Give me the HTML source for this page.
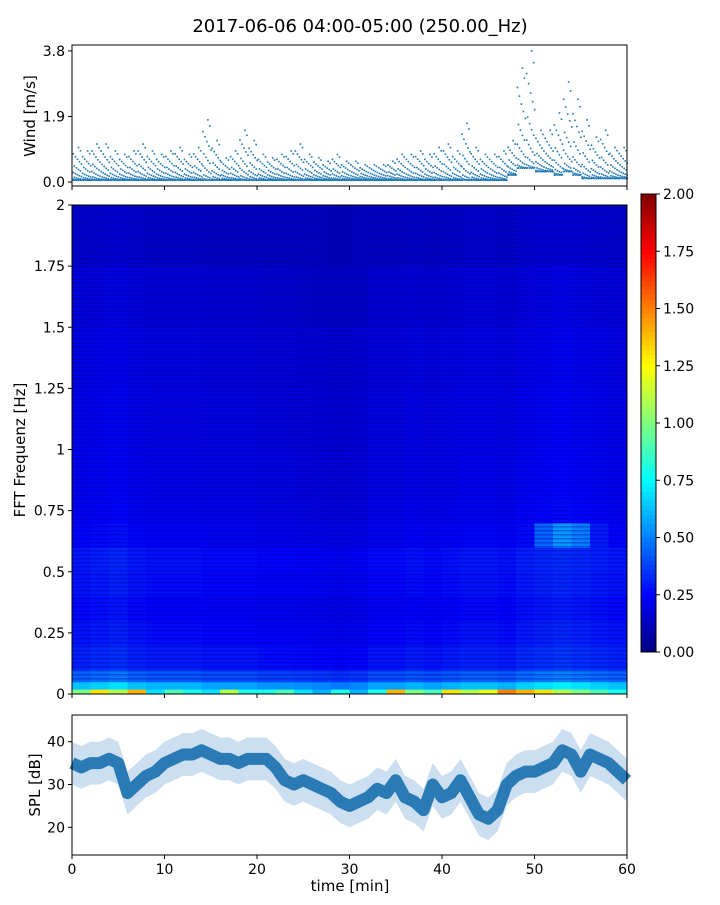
<!DOCTYPE html>
<html><head><meta charset="utf-8"><style>
body{margin:0;background:#fff;}
svg text{font-family:"DejaVu Sans","Liberation Sans",sans-serif;fill:#000;}
</style></head><body>
<svg id="fig" width="720" height="900" xmlns="http://www.w3.org/2000/svg">
<text x="360" y="32" font-size="18" text-anchor="middle">2017-06-06 04:00-05:00 (250.00_Hz)</text>
<g id="wind"></g>
<g id="spec"></g>
<g id="cbar"></g>
<g id="spl"></g>
</svg>
<script>
// ---- data ----
const windMinutes = [];
for (let i = 0; i < 60; i++) windMinutes.push(i + 0.5);
const windHigh = [1.0,0.9,1.1,1.1,0.9,0.8,0.9,1.1,0.9,0.8,0.9,1.0,0.8,1.0,1.8,1.2,0.7,0.9,1.5,1.2,0.8,0.7,0.8,0.9,1.1,0.8,0.7,0.6,0.8,0.6,0.6,0.5,0.5,0.5,0.6,0.8,0.8,0.9,0.8,1.0,1.1,0.9,1.7,1.0,0.8,0.8,0.9,1.2,3.3,3.8,1.5,1.5,2.0,2.9,2.4,1.8,1.3,1.5,1.0,1.0];
const windLow = [0.05,0.05,0.05,0.05,0.05,0.05,0.05,0.05,0.05,0.05,0.05,0.05,0.05,0.05,0.05,0.05,0.05,0.05,0.05,0.05,0.05,0.05,0.05,0.05,0.05,0.05,0.05,0.05,0.05,0.05,0.05,0.05,0.05,0.05,0.05,0.05,0.05,0.05,0.05,0.05,0.05,0.05,0.05,0.05,0.05,0.05,0.05,0.2,0.4,0.4,0.3,0.3,0.2,0.3,0.2,0.1,0.1,0.1,0.1,0.1];
const windTicks = [0.0, 1.9, 3.8];

const specRowEdges = [0,0.02,0.05,0.1,0.2,0.3,0.4,0.5,0.6,0.7,0.8,1.0,1.25,1.5,1.75,2.0];
const specRowLevel = [0.9,0.6,0.42,0.3,0.27,0.25,0.27,0.28,0.24,0.22,0.21,0.2,0.19,0.17,0.14];
const specColFactor = [1.05,1.1,1.15,1.05,1.0,1.0,1.0,0.95,0.95,0.95,0.9,0.9,0.88,0.85,0.82,0.85,0.95,0.95,1.0,0.95,1.0,1.05,1.05,1.0,1.1,1.15,1.2,1.15,1.1,1.05];
const specBottomRow = [1.0,1.3,1.1,1.4,0.7,0.9,0.8,0.7,1.1,0.8,0.8,0.9,0.7,0.6,0.8,0.6,0.8,1.4,1.0,0.9,1.3,1.1,1.2,1.5,1.4,1.3,1.1,1.0,0.9,0.8];
const specHigh65 = [0,0,0,0,0,0,0,0,0,0,0,0,0,0,0,0,0,0,0,0,0,0,0,0,0,0.45,0.55,0.5,0.3,0];
const specYTicks = ["0","0.25","0.5","0.75","1","1.25","1.5","1.75","2"];
const cbarTicks = ["0.00","0.25","0.50","0.75","1.00","1.25","1.50","1.75","2.00"];

const splMinutes = [];
for (let i = 0; i <= 60; i++) splMinutes.push(i);
const splValues = [35,34,35,35,36,35,28,30,32,33,35,36,37,37,38,37,36,36,35,36,36,36,34,31,30,31,30,29,28,26,25,26,27,29,28,31,27,26,24,30,27,28,31,27,23,22,24,30,32,33,33,34,35,38,37,33,37,36,35,33,31];
const splTicks = [20,30,40];
const timeTicks = [0,10,20,30,40,50,60];

// ---- helpers ----
const NS="http://www.w3.org/2000/svg";
function mk(tag, attrs, parent){const e=document.createElementNS(NS,tag);for(const k in attrs)e.setAttribute(k,attrs[k]);parent.appendChild(e);return e;}
const X0=72, X1=627;
const xT = t => X0 + (t/60)*(X1-X0);
function jet(v){v=Math.max(0,Math.min(1,v));
 const r=Math.max(0,Math.min(1,1.5-Math.abs(4*v-3))),g=Math.max(0,Math.min(1,1.5-Math.abs(4*v-2))),b=Math.max(0,Math.min(1,1.5-Math.abs(4*v-1)));
 return `rgb(${Math.round(r*255)},${Math.round(g*255)},${Math.round(b*255)})`;}

// ---- wind panel ----
const W=document.getElementById('wind');
const wy = v => 182 - v*34.5;
windMinutes.forEach((t,i)=>{
  const lo=windLow[i], hi=windHigh[i];
  for(let k=0;k<30;k++){
    const f=k/29; const v=lo+(hi-lo)*Math.pow(f,3);
    const d=mk('rect',{x:xT(t)-4+((k*7)%9),y:wy(v)-0.8,width:1.6,height:1.6,fill:'#1f77b4'},W);
    
    
  }
});
mk('rect',{x:X0,y:45,width:X1-X0,height:141,fill:'none',stroke:'#000','stroke-width':1},W);
windTicks.forEach(v=>{
  mk('line',{x1:X0-4,x2:X0,y1:wy(v),y2:wy(v),stroke:'#000'},W);
  const tx=mk('text',{x:X0-7,y:wy(v)+5,'font-size':14,'text-anchor':'end'},W);tx.textContent=v.toFixed(1);
  
  
});
timeTicks.forEach(t=>mk('line',{x1:xT(t),x2:xT(t),y1:186,y2:190,stroke:'#000'},W));
const wl=mk('text',{x:0,y:0,'font-size':15,'text-anchor':'middle',transform:'translate(35,116) rotate(-90)'},W);wl.textContent='Wind [m/s]';


// ---- spectrogram ----
const S=document.getElementById('spec');
const fy = f => 694 - (f/2)*489;
const nc=specColFactor.length, cw=(X1-X0)/nc;
for(let c=0;c<nc;c++){
  for(let r=0;r<specRowLevel.length;r++){
    let v=specRowLevel[r]*specColFactor[c];
    if(r===0) v=specBottomRow[c];
    if(specRowEdges[r]>=0.6 && specRowEdges[r]<0.7 && specHigh65[c]>0) v=specHigh65[c];
    const cell=mk('rect',{x:X0+c*cw,y:fy(specRowEdges[r+1]),width:cw+0.5,height:fy(specRowEdges[r])-fy(specRowEdges[r+1])+0.5,fill:jet(v/2)},S);
    
    
  }
}
// streak texture overlay (styling)
for(let y=206;y<680;y+=4){
  mk('rect',{x:X0,y:y,width:X1-X0,height:1.5,fill:'#00008f',opacity:0.35},S);
}
mk('rect',{x:X0,y:205,width:X1-X0,height:489,fill:'none',stroke:'#000'},S);
specYTicks.forEach((lab,i)=>{
  const y=fy(i*0.25);
  mk('line',{x1:X0-4,x2:X0,y1:y,y2:y,stroke:'#000'},S);
  const tx=mk('text',{x:X0-7,y:y+5,'font-size':14,'text-anchor':'end'},S);tx.textContent=lab;
  
});
timeTicks.forEach(t=>mk('line',{x1:xT(t),x2:xT(t),y1:694,y2:698,stroke:'#000'},S));
const sl=mk('text',{x:0,y:0,'font-size':15,'text-anchor':'middle',transform:'translate(25,450) rotate(-90)'},S);sl.textContent='FFT Frequenz [Hz]';


// ---- colorbar ----
const C=document.getElementById('cbar');
for(let i=0;i<100;i++){
  mk('rect',{x:641,y:652-(i+1)*4.58,width:15,height:5,fill:jet((i+0.5)/100)},C);
}
mk('rect',{x:641,y:194,width:15,height:458,fill:'none',stroke:'#000'},C);
cbarTicks.forEach((lab,i)=>{
  const y=652-i*57.25;
  mk('line',{x1:656,x2:660,y1:y,y2:y,stroke:'#000'},C);
  const tx=mk('text',{x:663,y:y+5,'font-size':14},C);tx.textContent=lab;
  
});

// ---- SPL ----
const P=document.getElementById('spl');
const sy = v => 741.7 - (v-40)*4.28;
let up='',dn='';
splMinutes.forEach((t,i)=>{up+=`${xT(t)},${sy(splValues[i]+5)} `;});
for(let i=splMinutes.length-1;i>=0;i--){dn+=`${xT(splMinutes[i])},${sy(splValues[i]-5)} `;}
const band=mk('polygon',{points:up+dn,fill:'#c6dcef',opacity:0.9},P);

const line=mk('polyline',{points:splMinutes.map((t,i)=>`${xT(t)},${sy(splValues[i])}`).join(' '),fill:'none',stroke:'#2a7ab5','stroke-width':12,'stroke-linejoin':'round'},P);

mk('rect',{x:X0,y:715,width:X1-X0,height:140,fill:'none',stroke:'#000'},P);
splTicks.forEach(v=>{
  mk('line',{x1:X0-4,x2:X0,y1:sy(v),y2:sy(v),stroke:'#000'},P);
  const tx=mk('text',{x:X0-7,y:sy(v)+5,'font-size':14,'text-anchor':'end'},P);tx.textContent=v;
  
});
timeTicks.forEach(t=>{
  mk('line',{x1:xT(t),x2:xT(t),y1:855,y2:859,stroke:'#000'},P);
  const tx=mk('text',{x:xT(t),y:874,'font-size':14,'text-anchor':'middle'},P);tx.textContent=t;
  
});
const pl=mk('text',{x:0,y:0,'font-size':15,'text-anchor':'middle',transform:'translate(40,785) rotate(-90)'},P);pl.textContent='SPL [dB]';

const xl=mk('text',{x:350,y:891,'font-size':15,'text-anchor':'middle'},P);xl.textContent='time [min]';

</script>
</body></html>
